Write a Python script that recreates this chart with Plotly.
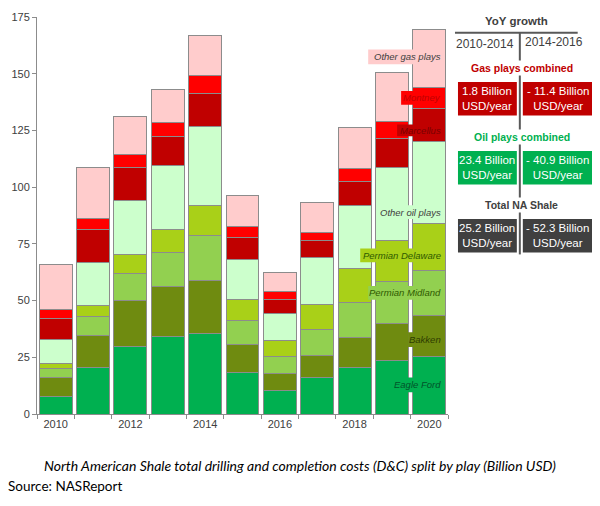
import plotly.graph_objects as go

years = [2010, 2011, 2012, 2013, 2014, 2015, 2016, 2017, 2018, 2019, 2020]
year_ticks = [2010, 2012, 2014, 2016, 2018, 2020]

# Billion USD per play (bottom to top)
eagle_ford = [7.9, 20.4, 29.6, 34.2, 35.5, 18.2, 10.5, 16.0, 20.6, 23.8, 25.3]
bakken = [8.1, 14.4, 20.4, 22.1, 23.3, 12.6, 7.4, 9.7, 13.3, 16.3, 18.0]
permian_midland = [3.9, 8.1, 12.0, 14.9, 19.7, 10.4, 7.4, 11.6, 15.2, 18.1, 19.8]
permian_delaware = [2.2, 4.8, 8.1, 10.1, 13.4, 9.1, 6.9, 10.8, 15.2, 18.5, 20.8]
other_oil = [10.8, 19.2, 24.0, 28.4, 34.7, 17.8, 12.1, 20.7, 27.7, 31.8, 36.2]
marcellus = [9.4, 14.4, 14.7, 12.8, 14.5, 9.9, 6.0, 7.5, 10.3, 13.0, 14.4]
montney = [3.9, 4.8, 5.8, 5.8, 8.3, 4.8, 3.9, 3.9, 5.9, 7.5, 9.4]
other_gas = [19.9, 22.7, 16.4, 14.6, 17.5, 13.3, 8.0, 13.0, 17.9, 21.7, 25.8]

plays = [
    ("Eagle Ford", eagle_ford, "#00b050", "#00532a"),
    ("Bakken", bakken, "#6f8b10", "#2f3d00"),
    ("Permian Midland", permian_midland, "#92d050", "#2f5a00"),
    ("Permian Delaware", permian_delaware, "#a9d018", "#2f5a00"),
    ("Other oil plays", other_oil, "#ccffcc", "#404040"),
    ("Marcellus", marcellus, "#c00000", "#7a0000"),
    ("Montney", montney, "#ff0000", "#c00000"),
    ("Other gas plays", other_gas, "#ffcccc", "#404040"),
]

# YoY growth panel
periods = ["2010-2014", "2014-2016"]
growth_groups = [
    ("Gas plays combined", "#c00000", ["1.8 Billion", "- 11.4 Billion"]),
    ("Oil plays combined", "#00b050", ["23.4 Billion", "- 40.9 Billion"]),
    ("Total NA Shale", "#404040", ["25.2 Billion", "- 52.3 Billion"]),
]

caption = "North American Shale total drilling and completion costs (D&C) split by play (Billion USD)"
source = "Source: NASReport"

# the page puts the plot 8px in from the top left corner
OFF = 8
W, H = 600 - OFF, 506 - OFF
L, R, T, B = 36 - OFF, 152, 11 - OFF, 92
ARIAL = "Liberation Sans"


def px(x):
    return (x - OFF - L) / (W - L - R)


def py(y):
    return (H - B - (y - OFF)) / (H - B - T)


fig = go.Figure()
for name, vals, col, _ in plays:
    fig.add_trace(go.Bar(x=years, y=vals, name=name, marker_color=col,
                         marker_line=dict(color="#8c8c8c", width=1)))

shapes = []
annos = []


def rect(x0, y0, x1, y1, col):
    shapes.append(dict(type="rect", xref="paper", yref="paper", x0=px(x0), x1=px(x1),
                       y0=py(y1), y1=py(y0), fillcolor=col, line_width=0, layer="above"))


def text(x, y, s, size=12, color="#404040", xa="center", bold=False, italic=False,
         family=ARIAL, bg=None):
    if bold:
        s = "<b>" + s + "</b>"
    if italic:
        s = "<i>" + s + "</i>"
    a = dict(x=px(x), y=py(y), xref="paper", yref="paper", text=s, showarrow=False,
             xanchor=xa, yanchor="middle", font=dict(size=size, color=color, family=family))
    if bg:
        a["bgcolor"] = bg
    annos.append(a)


# labels of the plays, on the right of the 2020 bar
label_boxes = {
    "Other gas plays": (368, 44, 59),
    "Montney": (401, 86, 100),
    "Marcellus": (397, 120, 132),
    "Other oil plays": (381, 202, 216),
    "Permian Delaware": (360, 246, 260),
    "Permian Midland": (368, 284, 298),
    "Bakken": (408, 331, 346),
    "Eagle Ford": (394, 377, 392),
}
for name, vals, col, tcol in plays:
    x0, y0, y1 = label_boxes[name]
    rect(x0, y0, 445, y1, col)
    text(443, (y0 + y1) / 2, name, size=9.5, color=tcol, xa="right", italic=True)

# growth panel
shapes.append(dict(type="line", xref="paper", yref="paper", x0=px(455), x1=px(578),
                   y0=py(27), y1=py(27), line=dict(color="#595959", width=2)))
shapes.append(dict(type="line", xref="paper", yref="paper", x0=px(520), x1=px(520),
                   y0=py(27), y1=py(252), line=dict(color="#595959", width=2)))
text(517, 15, "YoY growth", size=11.5, bold=True)
text(485, 38, periods[0], size=12)
text(554, 36, periods[1], size=12)

tops = [63, 133, 202]
for (title, col, vals), ty in zip(growth_groups, tops):
    text(522, ty, title, size=10.5, color=col, bold=True, bg="white")
    by0, by1 = ty + 14, ty + 48
    rect(458, by0, 517, by1, col)
    rect(523, by0, 593, by1, col)
    text(487.5, (by0 + by1) / 2, vals[0] + "<br>USD/year", size=11.5, color="white")
    text(558, (by0 + by1) / 2, vals[1] + "<br>USD/year", size=11.5, color="white")

text(300, 466, caption, size=14, color="#000000", italic=True, family="Lato")
text(5, 487, source, size=13.5, color="#000000", xa="left", family="Lato")

fig.update_layout(
    width=W, height=H, margin=dict(l=L, r=R, t=T, b=B),
    barmode="stack", bargap=0.12, showlegend=False,
    plot_bgcolor="white", paper_bgcolor="white",
    font=dict(family=ARIAL, size=11, color="#404040"),
    shapes=shapes, annotations=annos,
)
fig.update_xaxes(range=[2009.5, 2020.5], tickvals=year_ticks, ticks="", showgrid=False,
                 showline=True, linecolor="#8c8c8c", linewidth=1,
                 minor=dict(tick0=2009.5, dtick=1, ticks="outside", ticklen=4,
                            tickcolor="#8c8c8c", showgrid=False))
fig.update_yaxes(range=[0, 175], dtick=25, ticks="outside", ticklen=4, tickcolor="#8c8c8c",
                 showgrid=False, showline=True, linecolor="#8c8c8c", linewidth=1,
                 zeroline=False, ticklabeloverflow="allow")

fig.write_html("out.html")
